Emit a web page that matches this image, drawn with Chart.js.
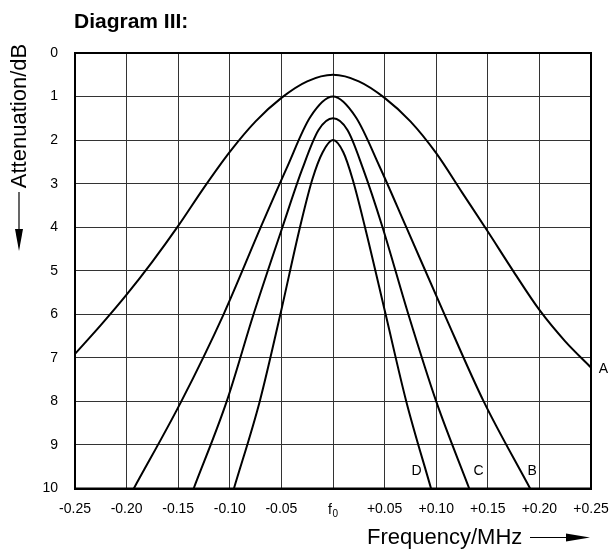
<!DOCTYPE html>
<html>
<head>
<meta charset="utf-8">
<title>Diagram III</title>
<script src="https://cdn.jsdelivr.net/npm/chart.js@4/dist/chart.umd.min.js"></script>
<style>
  html, body { margin: 0; padding: 0; background: #fff; }
  canvas { display: block; }
</style>
</head>
<body>
<canvas id="chart" width="611" height="551"></canvas>
<script>
// Data (frequency offset in MHz, attenuation in dB)
const freqA = [-0.25, -0.225, -0.2, -0.175, -0.15, -0.125, -0.1, -0.075, -0.05, -0.025, 0, 0.025, 0.05, 0.075, 0.1, 0.125, 0.15, 0.175, 0.2, 0.225, 0.25];
const attA  = [6.91, 6.25, 5.55, 4.79, 3.97, 3.09, 2.27, 1.57, 1.03, 0.65, 0.5, 0.65, 1.03, 1.57, 2.3, 3.2, 4.1, 5.02, 5.9, 6.62, 7.22];

const freqB = [-0.193, -0.147, -0.106, -0.07, -0.045, -0.022, 0, 0.022, 0.045, 0.071, 0.108, 0.146, 0.191];
const attB  = [10, 8, 6, 4, 2.65, 1.47, 1.0, 1.47, 2.6, 4, 6, 8, 10];

const freqC = [-0.135, -0.103, -0.077, -0.049, -0.03, -0.014, 0, 0.014, 0.029, 0.048, 0.073, 0.1, 0.132];
const attC  = [10, 8, 6, 4, 2.68, 1.77, 1.5, 1.77, 2.65, 4, 6, 8, 10];

const freqD = [-0.096, -0.071, -0.051, -0.032, -0.02, -0.01, 0, 0.01, 0.019, 0.031, 0.051, 0.071, 0.095];
const attD  = [10, 8, 6, 4, 2.9, 2.28, 2.0, 2.28, 2.9, 4, 6, 8, 10];

const curveNames = ['A', 'B', 'C', 'D'];
const labelFreq  = [0.262, 0.193, 0.141, 0.081];
const labelAtt   = [7.26, 9.61, 9.61, 9.61];

const titleText = 'Diagram III:';
const xTitle = 'Frequency/MHz';
const yTitle = 'Attenuation/dB';
const centreSymbol = 'f';
const centreIndex = '0';

const FONT = "'Liberation Sans', Arial, Helvetica, sans-serif";

function toPoints(xs, ys) {
  return xs.map((x, i) => ({ x: x, y: ys[i] }));
}

function curve(xs, ys) {
  return {
    data: toPoints(xs, ys),
    showLine: true,
    borderColor: '#000',
    borderWidth: 2,
    pointRadius: 0,
    fill: false,
    cubicInterpolationMode: 'monotone'
  };
}

// draws the title, axis titles with arrows, border, f0 label and curve letters
const decorations = {
  id: 'decorations',
  afterDraw(chart) {
    const ctx = chart.ctx;
    const area = chart.chartArea;
    const xs = chart.scales.x;
    const ys = chart.scales.y;
    ctx.save();

    // plot frame
    ctx.strokeStyle = '#000';
    ctx.lineWidth = 2;
    ctx.strokeRect(area.left, area.top, area.right - area.left, area.bottom - area.top);

    ctx.fillStyle = '#000';

    // title
    ctx.font = 'bold 21px ' + FONT;
    ctx.textAlign = 'left';
    ctx.textBaseline = 'alphabetic';
    ctx.fillText(titleText, 74, 28);

    // centre frequency label (f with subscript 0)
    const x0 = xs.getPixelForValue(0);
    ctx.font = '14px ' + FONT;
    ctx.fillText(centreSymbol, x0 - 5, 514);
    ctx.font = '10px ' + FONT;
    ctx.fillText(centreIndex, x0 - 0.5, 516.5);

    // x axis title + arrow
    ctx.font = '22px ' + FONT;
    ctx.fillText(xTitle, 367, 544);
    ctx.lineWidth = 1.2;
    ctx.beginPath();
    ctx.moveTo(530, 537.5);
    ctx.lineTo(570, 537.5);
    ctx.stroke();
    ctx.beginPath();
    ctx.moveTo(566, 533.5);
    ctx.lineTo(590, 537.5);
    ctx.lineTo(566, 541.5);
    ctx.closePath();
    ctx.fill();

    // y axis title + arrow
    ctx.save();
    ctx.translate(20, 116);
    ctx.rotate(-Math.PI / 2);
    ctx.textAlign = 'center';
    ctx.textBaseline = 'middle';
    ctx.fillText(yTitle, 0, 0);
    ctx.restore();
    ctx.beginPath();
    ctx.moveTo(19, 192);
    ctx.lineTo(19, 232);
    ctx.stroke();
    ctx.beginPath();
    ctx.moveTo(15, 229);
    ctx.lineTo(19, 251);
    ctx.lineTo(23, 229);
    ctx.closePath();
    ctx.fill();

    // curve letters
    ctx.font = '14px ' + FONT;
    ctx.textAlign = 'center';
    ctx.textBaseline = 'middle';
    curveNames.forEach((name, i) => {
      ctx.fillText(name, xs.getPixelForValue(labelFreq[i]), ys.getPixelForValue(labelAtt[i]));
    });

    ctx.restore();
  }
};

Chart.defaults.color = '#000';
Chart.defaults.font.family = FONT;
Chart.defaults.font.size = 14;

new Chart(document.getElementById('chart').getContext('2d'), {
  type: 'scatter',
  data: {
    datasets: [curve(freqA, attA), curve(freqB, attB), curve(freqC, attC), curve(freqD, attD)]
  },
  options: {
    responsive: false,
    animation: false,
    layout: { padding: { top: 53, right: 20, left: 0, bottom: 0 } },
    plugins: {
      legend: { display: false },
      tooltip: { enabled: false }
    },
    scales: {
      x: {
        type: 'linear',
        min: -0.25,
        max: 0.25,
        afterFit(scale) {
          scale.height = 62.5;
          scale.paddingLeft = 0;
          scale.paddingRight = 0;
        },
        grid: { color: '#333', lineWidth: 1, drawTicks: false },
        border: { display: true, color: '#000', width: 2 },
        ticks: {
          stepSize: 0.05,
          padding: 12,
          maxRotation: 0,
          autoSkip: false,
          callback: function(value) {
            // the centre tick is drawn as f0 by the decorations plugin
            if (Math.abs(value) < 1e-9) return '';
            return (value > 0 ? '+' : '') + value.toFixed(2);
          }
        }
      },
      y: {
        type: 'linear',
        reverse: true,
        min: 0,
        max: 10,
        afterFit(scale) {
          scale.width = 75;
          scale.paddingTop = 0;
          scale.paddingBottom = 0;
        },
        grid: { color: '#333', lineWidth: 1, drawTicks: false },
        border: { display: true, color: '#000', width: 2 },
        ticks: {
          stepSize: 1,
          padding: 17,
          autoSkip: false
        }
      }
    }
  },
  plugins: [decorations]
});
</script>
</body>
</html>
